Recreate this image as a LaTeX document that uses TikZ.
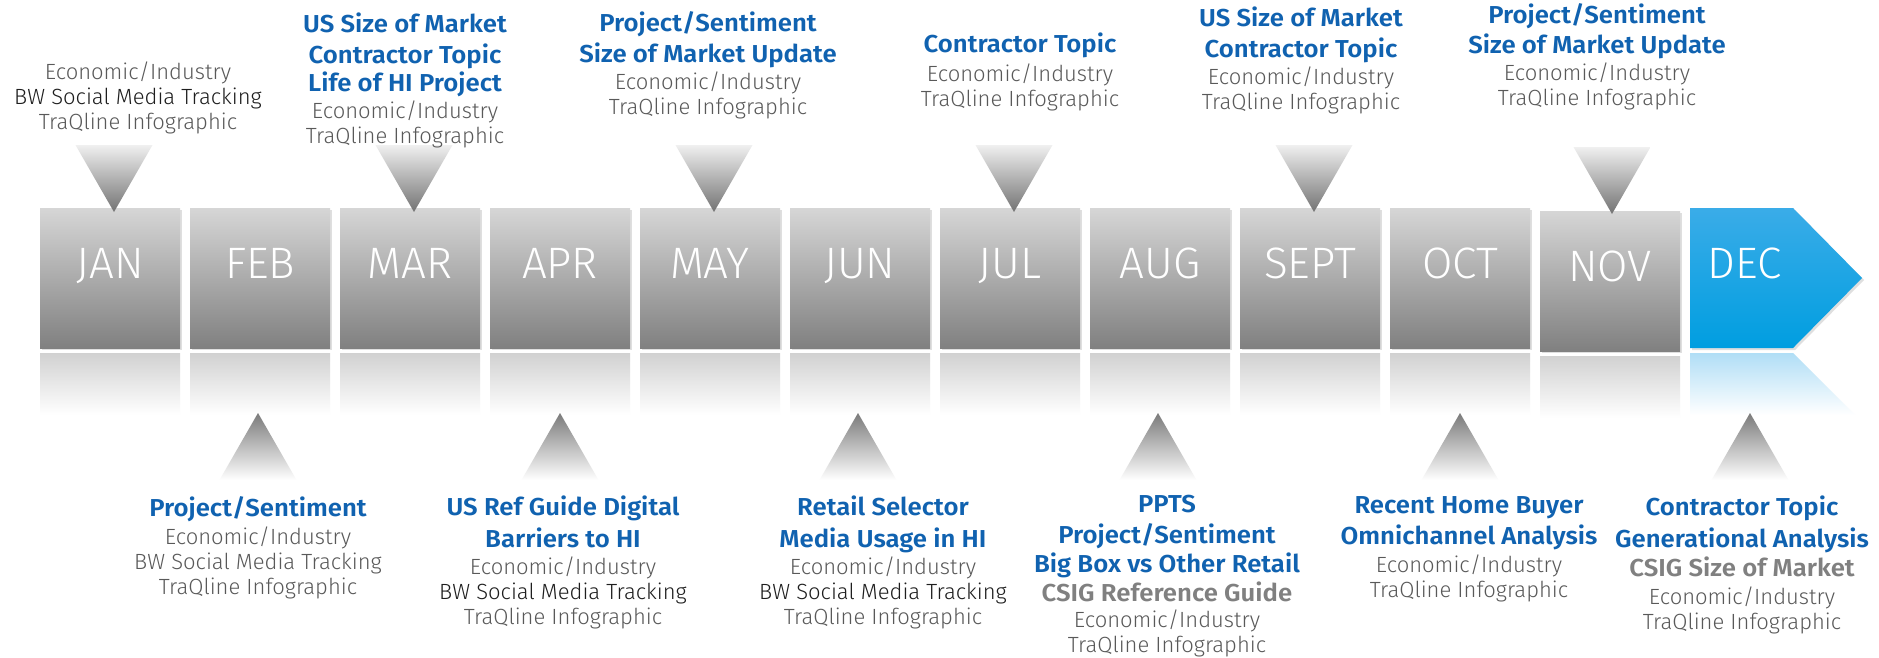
\documentclass[tikz,border=0pt]{standalone}
\usepackage{fontspec}
\usepackage{tikz}
\usetikzlibrary{shadows}
\newfontfamily\lightfont{Fira Sans Light}
\newfontfamily\boldfont{Fira Sans SemiBold}[FakeStretch=1.05]
\definecolor{labelblue}{RGB}{16,98,176}
\definecolor{labelgray}{RGB}{89,89,89}
\definecolor{darktext}{RGB}{30,30,30}
\definecolor{csiggray}{RGB}{128,128,128}
\definecolor{boxtop}{RGB}{214,214,214}
\definecolor{boxbottom}{RGB}{128,128,128}
\definecolor{dectop}{RGB}{58,172,232}
\definecolor{decbottom}{RGB}{0,158,224}
\newcommand{\blueline}[1]{{\boldfont\fontsize{24.5}{25}\selectfont\color{labelblue}#1}}
\newcommand{\csigline}[1]{{\boldfont\fontsize{24.5}{25}\selectfont\color{csiggray}#1}}
\newcommand{\darkline}[1]{{\color{darktext}#1}}

\begin{document}
\begin{tikzpicture}[line cap=round,line join=round,x=1pt,y=-1pt,
  monthbox/.style={rectangle, minimum width=140pt, minimum height=140pt, inner sep=0pt,
    top color=boxtop, bottom color=boxbottom, text=white,
    font=\lightfont\fontsize{44}{44}\selectfont, text height=20pt, text depth=20pt,
    drop shadow={opacity=0.25, shadow xshift=2pt, shadow yshift=-2pt}},
  monthtext/.style={inner sep=0pt, text=white, font=\lightfont\fontsize{44}{44}\selectfont,
    text height=20pt, text depth=20pt},
  infolabel/.style={anchor=north, align=center, inner sep=0pt, text=labelgray,
    font=\lightfont\fontsize{22}{25}\selectfont},
  mirror/.style={top color=black!18, bottom color=white},
  downtri/.style={top color=black!6, bottom color=black!55},
  uptri/.style={top color=black!52, bottom color=white}]
\fill[white] (0,0) rectangle (1879,657);
\useasboundingbox (0,0) rectangle (1879,657);

% reflections under the months
\shade[mirror] (40,353) rectangle (180,415);
\shade[mirror] (190,353) rectangle (330,415);
\shade[mirror] (340,353) rectangle (480,415);
\shade[mirror] (490,353) rectangle (630,415);
\shade[mirror] (640,353) rectangle (780,415);
\shade[mirror] (790,353) rectangle (930,415);
\shade[mirror] (940,353) rectangle (1080,415);
\shade[mirror] (1090,353) rectangle (1230,415);
\shade[mirror] (1240,353) rectangle (1380,415);
\shade[mirror] (1390,353) rectangle (1530,415);
\shade[mirror] (1540,356) rectangle (1680,418);
\shade[top color=dectop!40, bottom color=white] (1690,353) -- (1793,353) -- (1855,415) -- (1690,415) -- cycle;

% month boxes
\node[monthbox] (jan) at (110,278) {JAN};
\node[monthbox] (feb) at (260,278) {FEB};
\node[monthbox] (mar) at (410,278) {MAR};
\node[monthbox] (apr) at (560,278) {APR};
\node[monthbox] (may) at (710,278) {MAY};
\node[monthbox] (jun) at (860,278) {JUN};
\node[monthbox] (jul) at (1010,278) {JUL};
\node[monthbox] (aug) at (1160,278) {AUG};
\node[monthbox] (sept) at (1310,278) {SEPT};
\node[monthbox] (oct) at (1460,278) {OCT};
\node[monthbox] (nov) at (1610,281) {NOV};
\shade[top color=dectop, bottom color=decbottom, drop shadow={opacity=0.25, shadow xshift=2pt, shadow yshift=-2pt}]
  (1690,208) -- (1793,208) -- (1862,278) -- (1793,348) -- (1690,348) -- cycle;
\node[monthtext] (dec) at (1745,278) {DEC};

% pointers above
\shade[downtri] (75.5,145) -- (152.5,145) -- (114,212) -- cycle;
\shade[downtri] (375.5,145) -- (452.5,145) -- (414,212) -- cycle;
\shade[downtri] (675.5,145) -- (752.5,145) -- (714,212) -- cycle;
\shade[downtri] (975.5,145) -- (1052.5,145) -- (1014,212) -- cycle;
\shade[downtri] (1275.5,145) -- (1352.5,145) -- (1314,212) -- cycle;
\shade[downtri] (1573.5,147) -- (1650.5,147) -- (1612,214) -- cycle;

% pointers below
\shade[uptri] (258,413) -- (296.5,480) -- (219.5,480) -- cycle;
\shade[uptri] (560,413) -- (598.5,480) -- (521.5,480) -- cycle;
\shade[uptri] (858,413) -- (896.5,480) -- (819.5,480) -- cycle;
\shade[uptri] (1158,413) -- (1196.5,480) -- (1119.5,480) -- cycle;
\shade[uptri] (1460,413) -- (1498.5,480) -- (1421.5,480) -- cycle;
\shade[uptri] (1750,413) -- (1788.5,480) -- (1711.5,480) -- cycle;

% deliverables above
\node[infolabel] (janinfo) at (138,61.5) {\strut Economic/Industry\\\darkline{BW Social Media Tracking}\\TraQline Infographic};
\node[infolabel] (marinfo) at (405,12.5) {\strut\blueline{US Size of Market}\\[2.5pt]\blueline{Contractor Topic}\\[2.5pt]\blueline{Life of HI Project}\\[2pt]Economic/Industry\\TraQline Infographic};
\node[infolabel] (mayinfo) at (708,11.5) {\strut\blueline{Project/Sentiment}\\[2.5pt]\blueline{Size of Market Update}\\[2pt]Economic/Industry\\TraQline Infographic};
\node[infolabel] (julinfo) at (1020,33) {\strut\blueline{Contractor Topic}\\[2pt]Economic/Industry\\TraQline Infographic};
\node[infolabel] (septinfo) at (1301,6.5) {\strut\blueline{US Size of Market}\\[2.5pt]\blueline{Contractor Topic}\\[2pt]Economic/Industry\\TraQline Infographic};
\node[infolabel] (novinfo) at (1597,3) {\strut\blueline{Project/Sentiment}\\[2.5pt]\blueline{Size of Market Update}\\[2pt]Economic/Industry\\TraQline Infographic};

% deliverables below
\node[infolabel] (febinfo) at (258,496) {\strut\blueline{Project/Sentiment}\\[2.5pt]Economic/Industry\\BW Social Media Tracking\\TraQline Infographic};
\node[infolabel] (aprinfo) at (563,496) {\strut\blueline{US Ref Guide Digital}\\[3pt]\blueline{Barriers to HI}\\[2.5pt]Economic/Industry\\\darkline{BW Social Media Tracking}\\TraQline Infographic};
\node[infolabel] (juninfo) at (883,496) {\strut\blueline{Retail Selector}\\[3pt]\blueline{Media Usage in HI}\\[2.5pt]Economic/Industry\\\darkline{BW Social Media Tracking}\\TraQline Infographic};
\node[infolabel] (auginfo) at (1167,495) {\strut\blueline{PPTS}\\[2.5pt]\blueline{Project/Sentiment}\\[2.5pt]\blueline{Big Box vs Other Retail}\\[3pt]\csigline{CSIG Reference Guide}\\[1.5pt]Economic/Industry\\TraQline Infographic};
\node[infolabel] (octinfo) at (1469,496) {\strut\blueline{Recent Home Buyer}\\[3pt]\blueline{Omnichannel Analysis}\\[2.5pt]Economic/Industry\\TraQline Infographic};
\node[infolabel] (decinfo) at (1742,496) {\strut\blueline{Contractor Topic}\\[3pt]\blueline{Generational Analysis}\\[3.5pt]\csigline{CSIG Size of Market}\\[2.5pt]Economic/Industry\\TraQline Infographic};
\end{tikzpicture}
\end{document}
